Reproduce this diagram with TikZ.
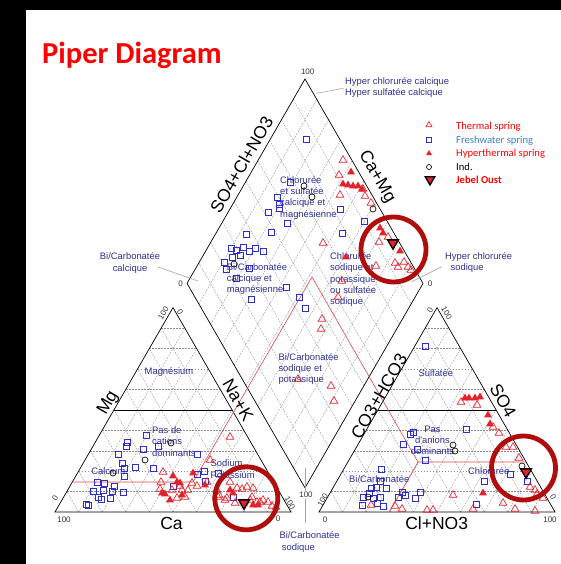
\documentclass[tikz,border=0pt]{standalone}
\usepackage{fontspec}
\setmainfont{Carlito}
\newfontfamily\arialfont{Liberation Sans}
\usetikzlibrary{shapes.geometric, calc}
\definecolor{ptred}{HTML}{E4222B}
\definecolor{ptblue}{HTML}{2F2FC8}
\definecolor{zonetxt}{HTML}{2E3192}
\definecolor{zoneline}{HTML}{E0474C}
\definecolor{ringred}{HTML}{B00D0D}
\definecolor{legblue}{HTML}{3B82C4}
\definecolor{gridgray}{HTML}{8C8C8C}

\begin{document}
\begin{tikzpicture}[x=1pt, y=-1pt,
    frame/.style={draw=black, line width=0.7pt, line join=miter},
    midline/.style={draw=black, line width=0.5pt},
    gridline/.style={draw=gridgray, dash pattern=on 1.8pt off 1.2pt, line width=0.35pt},
    boundary/.style={draw=zoneline, line width=0.6pt},
    leader/.style={draw=gray!70, line width=0.6pt},
    thermal/.style={regular polygon, regular polygon sides=3, draw=ptred, line width=0.65pt, inner sep=0pt, minimum size=8.8pt},
    hyper/.style={regular polygon, regular polygon sides=3, fill=ptred, inner sep=0pt, minimum size=9pt},
    fresh/.style={rectangle, draw=ptblue, line width=0.65pt, inner sep=0pt, minimum size=5.8pt},
    ind/.style={circle, draw=black, line width=0.65pt, inner sep=0pt, minimum size=6pt},
    jebel/.style={regular polygon, regular polygon sides=3, shape border rotate=180, fill=ptred, draw=black, line width=1.3pt, inner sep=0pt, minimum size=12.5pt},
    ring/.style={draw=ringred, line width=4.8pt},
    zone/.style={font=\arialfont\fontsize{9.4}{11.3}\selectfont, text=zonetxt, align=left, inner sep=0pt},
    axislab/.style={font=\arialfont\fontsize{17.5}{20}\selectfont, inner sep=0pt},
    tick/.style={font=\arialfont\fontsize{8}{9}\selectfont, text=black!80, inner sep=0pt},
    legtext/.style={font=\fontsize{10.6}{12}\selectfont, anchor=west, inner sep=0pt}]
  \useasboundingbox (0,0) rectangle (561,564);
  \fill[white] (0,0) rectangle (561,564);
  \fill[black] (0,0) rectangle (561,10.5);
  \fill[black] (0,0) rectangle (25.5,564);

  % title
  \node[anchor=base west, inner sep=0pt, text=red, font=\bfseries\fontsize{30.5}{33}\selectfont] (title) at (42,63.5) {Piper Diagram};

  % corners of the three fields
  \coordinate (cA) at (55,512); \coordinate (cB) at (291,512); \coordinate (cT) at (173,307.6);
  \coordinate (aA) at (319,512); \coordinate (aB) at (555,512); \coordinate (aT) at (437,307.6);
  \coordinate (dL) at (187,283.4); \coordinate (dT) at (305,79); \coordinate (dR) at (423,283.4); \coordinate (dB) at (305,487.8);

  % 10 % grid
  \foreach \tri in {c,a} {
    \foreach \f in {0.1,0.2,...,0.9} {
      \draw[gridline] ($(\tri A)!\f!(\tri T)$) -- ($(\tri B)!\f!(\tri T)$);
      \draw[gridline] ($(\tri A)!\f!(\tri B)$) -- ($(\tri T)!\f!(\tri B)$);
      \draw[gridline] ($(\tri A)!\f!(\tri B)$) -- ($(\tri A)!\f!(\tri T)$);
    }
  }
  \foreach \f in {0.1,0.2,...,0.9} {
    \draw[gridline] ($(dL)!\f!(dB)$) -- ($(dT)!\f!(dR)$);
    \draw[gridline] ($(dL)!\f!(dT)$) -- ($(dB)!\f!(dR)$);
  }

  % outlines
  \draw[frame] (cA) -- (cB) -- (cT) -- cycle;
  \draw[frame] (aA) -- (aB) -- (aT) -- cycle;
  \draw[frame] (dL) -- (dT) -- (dR) -- (dB) -- cycle;
  \draw[midline] ($(cA)!0.5!(cT)$) -- ($(cB)!0.5!(cT)$);
  \draw[midline] ($(aA)!0.5!(aT)$) -- ($(aB)!0.5!(aT)$);

  % facies boundaries
  \coordinate (kc) at (193,482); \coordinate (kd) at (312,277); \coordinate (ka) at (418,462);
  \draw[boundary] (72.3,482) -- (kc) -- (kd) -- (ka) -- (526.1,462);
  \draw[boundary] (ka) -- (389.1,512);

  % leaders
  \draw[leader] (316.7,93.3) -- (343.3,88.3);
  \draw[leader] (158,267) -- (198,281);
  \draw[leader] (441.7,266.7) -- (411.7,281.7);
  \draw[leader] (305,468) -- (305,523);

  % axis names
  \node[axislab, rotate=60] (xSO) at (241.5,165) {SO4+Cl+NO3};
  \node[axislab, rotate=-60] (xCM) at (376.7,176.7) {Ca+Mg};
  \node[axislab, rotate=60] (xMg) at (108.3,403.3) {Mg};
  \node[axislab, rotate=-60] (xNK) at (238,400) {Na+K};
  \node[axislab] (xCa) at (171.5,523.3) {Ca};
  \node[axislab, rotate=60] (xCO) at (379,396) {CO3+HCO3};
  \node[axislab, rotate=-60] (xS4) at (503,401) {SO4};
  \node[axislab] (xCl) at (436.7,523) {Cl+NO3};

  % scale ends
  \node[tick] (t1) at (307.7,72) {100};
  \node[tick] (t2) at (180.7,284) {0};
  \node[tick] (t3) at (430,283.3) {0};
  \node[tick, fill=white, inner sep=0.8pt] (t4) at (306,495) {100};
  \node[tick] (t5) at (64,520) {100};
  \node[tick] (t6) at (278,519) {0};
  \node[tick, rotate=60] (t7) at (55,498.3) {0};
  \node[tick, rotate=60] (t8) at (163.3,313.3) {100};
  \node[tick, rotate=-60] (t9) at (180,311.7) {0};
  \node[tick, rotate=-60] (t10) at (290,503) {100};
  \node[tick] (t11) at (325,520) {0};
  \node[tick] (t12) at (550,520) {100};
  \node[tick, rotate=60] (t13) at (322.7,500) {100};
  \node[tick, rotate=60] (t14) at (430,310) {0};
  \node[tick, rotate=-60] (t15) at (446.7,313.3) {100};
  \node[tick, rotate=-60] (t16) at (553,496.7) {0};

  % facies names
  \node[zone, anchor=north west] (zHCC) at (345,77.4) {Hyper chlorurée calcique\\Hyper sulfatée calcique};
  \node[zone, anchor=north west] (zCSC) at (280,176) {Chlorurée\\et sulfatée\\calcique et\\magnésienne};
  \node[zone, anchor=north, align=center] (zBCC) at (130,252.7) {Bi/Carbonatée\\calcique};
  \node[zone, anchor=north west] (zBCM) at (226.7,263) {Bi/Carbonatée\\calcique et\\magnésienne};
  \node[zone, anchor=north west] (zCSP) at (330,252.4) {Chlorurée\\sodique et\\potassique\\ou sulfatée\\sodique};
  \node[zone, anchor=north west] (zHCS) at (445,252.4) {Hyper chlorurée\\\hspace*{5.5pt}sodique};
  \node[zone, anchor=north west] (zBSP) at (278.3,353) {Bi/Carbonatée\\sodique et\\potassique};
  \node[zone, anchor=north west] (zBCS) at (279.3,531.7) {Bi/Carbonatée\\\hspace*{2.4pt}sodique};
  \node[zone] (zMg) at (169,372.3) {Magnésium};
  \node[zone, anchor=north west] (zPC) at (152,426.4) {Pas de\\cations\\dominants};
  \node[zone] (zCa) at (108.3,471) {Calcium};
  \node[zone, anchor=north west] (zNa) at (210.5,459.7) {Sodium\\Potassium};
  \node[zone] (zSu) at (435.8,373.3) {Sulfatée};
  \node[zone, anchor=north, align=center] (zPA) at (432.5,425.7) {Pas\\d'anions\\dominants};
  \node[zone] (zCh) at (488.8,470.7) {Chlorurée};
  \node[zone] (zBi) at (379.2,479) {Bi/Carbonatée};

  % samples
  \foreach \p [count=\i] in {(306,139),(290,182),(277,197),(279,204),(279,208),(268,212),(287,223),(340,209),(342,233),(364,221),(246,234),(271,232),(231,248),(236,250),(243,247),(249,251),(255,248),(263,251),(240,255),(232,257),(224,262),(249,268),(226,269),(236,278),(286,287),(251,299),(299,297),(305,308),
      (146,435),(127,442),(126,446),(143,449),(158,446),(118,454),(122,463),(124,468),(135,467),(153,468),(124,476),(97,482),(104,483),(114,486),(93,491),(103,490),(112,491),(123,492),(98,497),(101,499),(110,498),(86,504),(88,505),(197,454),(204,471),(197,474),(205,481),(218,473),(173,486),(233,497),
      (425,346),(466,429),(410,434),(413,432),(403,444),(417,449),(425,460),(381,469),(380,481),(371,488),(386,488),(376,487),(369,493),(363,497),(362,505),(373,498),(380,497),(383,506),(377,503),(402,492),(398,497),(420,492),(415,498),(405,495),(484,481),(510,474),(527,481),(476,504)}
    \node[fresh] (fw\i) at \p {};
  \foreach \p [count=\i] in {(343,160),(339,175),(340,195),(363,189),(365,196),(371,203),(323,243),(379,242),(388,237),(395,263),(404,262),(408,267),(398,267),(376,266),(411,270),(342,281),(338,297),(322,319),(321,329),(298,379),(331,386),(334,401),
      (230,437),(210,460),(163,472),(161,482),(192,483),(197,486),(172,490),(182,490),(180,486),(188,490),(185,497),(177,498),(160,489),(207,482),
      (230,482),(237,488),(242,489),(247,487),(253,488),(219,495),(225,500),(250,500),(257,502),(263,500),(268,502),(272,506),(217,490),(218,497),(227,498),(235,503),(260,502),(276,507),(252,497),
      (461,402),(477,405),(493,427),(499,433),(506,447),(513,447),(519,458),(530,487),(535,490),(537,494),(543,498),(453,495),(371,505),(395,506),(402,509),(427,510),(433,510),(473,509),(515,509),(535,511),(503,503)}
    \node[thermal] (th\i) at \p {};
  \foreach \p [count=\i] in {(351,172),(343,184),(348,185),(353,186),(358,186),(362,189),(346,257),(380,228),(383,233),(400,251),
      (173,476),(193,473),(180,483),(177,482),(162,493),(165,494),(170,500),(182,495),(205,485),(230,490),(233,493),(253,505),(258,505),
      (465,398),(469,398),(475,398),(480,397),(488,415),(490,424),(483,493)}
    \node[hyper] (hy\i) at \p {};
  \foreach \p [count=\i] in {(304,186),(312,197),(373,209),(234,264),(171,443),(145,460),(113,473),(453,445),(455,451),(368,497),(522,466)}
    \node[ind] (in\i) at \p {};
  \foreach \p [count=\i] in {(393,243),(244,503),(526,472)}
    \node[jebel] (jo\i) at \p {};

  % highlight rings
  \draw[ring] (393.5,249.5) circle[radius=32.5];
  \draw[ring] (246.3,498.3) circle[radius=31.5];
  \draw[ring] (523.5,468) circle[radius=32];

  % legend
  \node[thermal, minimum size=7pt] (lg1) at (429,125) {};
  \node[fresh, minimum size=4.8pt] (lg2) at (429,140) {};
  \node[hyper, minimum size=7pt] (lg3) at (429,153.5) {};
  \node[ind, minimum size=5pt] (lg4) at (429,167) {};
  \node[jebel, minimum size=11pt] (lg5) at (430,179.5) {};
  \node[legtext, text=red] (lt1) at (456,127) {Thermal spring};
  \node[legtext, text=legblue] (lt2) at (456,141) {Freshwater spring};
  \node[legtext, text=red] (lt3) at (456,154) {Hyperthermal spring};
  \node[legtext] (lt4) at (456,167) {Ind.};
  \node[legtext, text=red, font=\bfseries\fontsize{10.6}{12}\selectfont] (lt5) at (456,180) {Jebel Oust};
\end{tikzpicture}
\end{document}
